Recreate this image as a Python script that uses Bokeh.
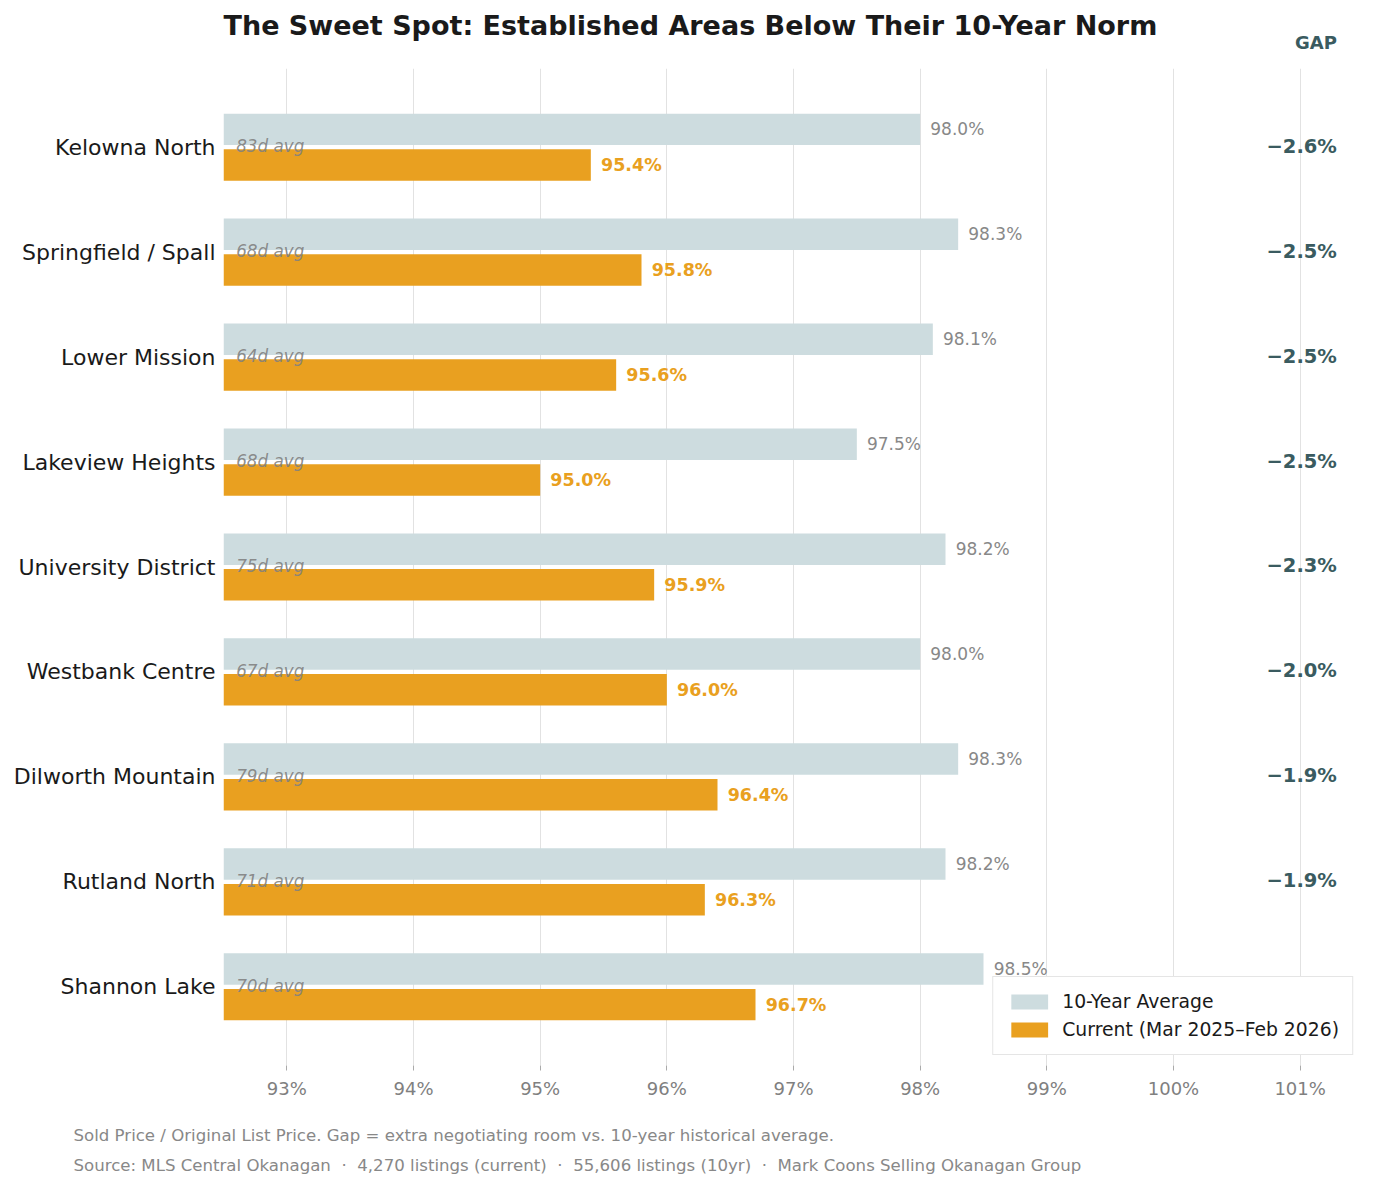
from bokeh.plotting import figure
from bokeh.models import (ColumnDataSource, Range1d, FixedTicker, Title,
                          Legend, LegendItem, LinearAxis)
from bokeh.core.properties import value
from bokeh.embed import file_html
from bokeh.resources import INLINE

# ---- data ----
areas = ["Kelowna North", "Springfield / Spall", "Lower Mission", "Lakeview Heights",
         "University District", "Westbank Centre", "Dilworth Mountain", "Rutland North",
         "Shannon Lake"]
avg_10yr = [98.0, 98.3, 98.1, 97.5, 98.2, 98.0, 98.3, 98.2, 98.5]
current = [95.4, 95.8, 95.6, 95.0, 95.9, 96.0, 96.4, 96.3, 96.7]
gap = [-2.6, -2.5, -2.5, -2.5, -2.3, -2.0, -1.9, -1.9, -1.8]
days_avg = [83, 68, 64, 68, 75, 67, 79, 71, 70]
x_ticks = [93, 94, 95, 96, 97, 98, 99, 100, 101]
x_tick_labels = ["93%", "94%", "95%", "96%", "97%", "98%", "99%", "100%", "101%"]

TITLE = "The Sweet Spot: Established Areas Below Their 10-Year Norm"
GAP_HEADER = "GAP"
SEP = " \u00a0\u00b7\u00a0 "
FOOT1 = "Sold Price / Original List Price. Gap = extra negotiating room vs. 10-year historical average."
FOOT2 = SEP.join(["Source: MLS Central Okanagan", "4,270 listings (current)",
                  "55,606 listings (10yr)", "Mark Coons Selling Okanagan Group"])

GRAY = "#CDDCDF"
ORANGE = "#E9A020"
TXT_GRAY = "#888888"
GAP_COL = "#3A5B60"
FONT = "DejaVu Sans"

n = len(areas)
ypos = [n - 1 - i for i in range(n)]
X0 = 92.5
X1 = 101.5
GAP_X = 101.29
GAP_HEAD_X = 101.125
OFF = 0.17
BH = 0.30

src = ColumnDataSource(dict(
    y=ypos,
    y_avg=[y + OFF for y in ypos],
    y_cur=[y - OFF for y in ypos],
    y_txt=[y + 0.01 for y in ypos],
    avg=avg_10yr,
    cur=current,
    avg_lbl=[f"{v:.1f}%" for v in avg_10yr],
    cur_lbl=[f"{v:.1f}%" for v in current],
    gap_lbl=[f"\u2212{abs(g):.1f}%" for g in gap],
    days_lbl=[f"{d}d avg" for d in days_avg],
    avg_x=[v + 0.08 for v in avg_10yr],
    cur_x=[v + 0.08 for v in current],
))

p = figure(width=1370, height=1180, output_backend="svg", toolbar_location=None,
           x_range=Range1d(X0, X1), y_range=Range1d(-0.75, 8.75),
           min_border_left=223, min_border_right=7, min_border_top=68,
           min_border_bottom=115)
p.outline_line_color = None
p.background_fill_color = "white"
p.border_fill_color = "white"

# bars
r_avg = p.hbar(y="y_avg", left=X0, right="avg", height=BH, source=src,
               fill_color=GRAY, line_color=None)
r_cur = p.hbar(y="y_cur", left=X0, right="cur", height=BH, source=src,
               fill_color=ORANGE, line_color=None)

# labels
p.text(x="avg_x", y="y_avg", text="avg_lbl", source=src, text_font=value(FONT),
       text_font_size="17px", text_color=TXT_GRAY, text_baseline="middle",
       text_align="left")
p.text(x="cur_x", y="y_cur", text="cur_lbl", source=src, text_font=value(FONT),
       text_font_size="17.5px", text_font_style="bold", text_color=ORANGE,
       text_baseline="middle", text_align="left")
p.text(x=X0 + 0.1, y="y_txt", text="days_lbl", source=src, text_font=value(FONT),
       text_font_size="16.8px", text_font_style="italic", text_color="#808080",
       text_alpha=0.9, text_baseline="middle", text_align="left")
p.text(x=GAP_X, y="y_txt", text="gap_lbl", source=src, text_font=value(FONT),
       text_font_size="19.5px", text_font_style="bold", text_color=GAP_COL,
       text_baseline="middle", text_align="right")

# bottom axis
p.xaxis.ticker = FixedTicker(ticks=x_ticks)
p.xaxis.major_label_overrides = {t: l for t, l in zip(x_ticks, x_tick_labels)}
p.xaxis.axis_line_color = None
p.xaxis.major_tick_line_color = "#aaaaaa"
p.xaxis.major_tick_in = 0
p.xaxis.major_tick_out = 5
p.xaxis.minor_tick_line_color = None
p.xaxis.major_label_text_font = FONT
p.xaxis.major_label_text_font_size = "18px"
p.xaxis.major_label_text_color = "#808080"
p.xaxis.major_label_standoff = 7

p.yaxis.ticker = FixedTicker(ticks=ypos)
p.yaxis.major_label_overrides = {y: a for y, a in zip(ypos, areas)}
p.yaxis.axis_line_color = None
p.yaxis.major_tick_line_color = None
p.yaxis.major_tick_in = 0
p.yaxis.major_tick_out = 0
p.yaxis.minor_tick_line_color = None
p.yaxis.major_label_text_font = FONT
p.yaxis.major_label_text_font_size = "22px"
p.yaxis.major_label_text_color = "#1a1a1a"
p.yaxis.major_label_standoff = 8

p.xgrid.grid_line_color = "#e2e2e2"
p.xgrid.grid_line_width = 1
p.ygrid.grid_line_color = None

# "GAP" column header as a top axis label
top_axis = LinearAxis(ticker=FixedTicker(ticks=[GAP_HEAD_X]),
                      major_label_overrides={GAP_HEAD_X: GAP_HEADER},
                      axis_line_color=None, major_tick_line_color=None,
                      major_tick_in=0, major_tick_out=0,
                      minor_tick_line_color=None, major_label_standoff=16,
                      major_label_text_font=FONT, major_label_text_font_size="18px",
                      major_label_text_font_style="bold",
                      major_label_text_color=GAP_COL)
p.add_layout(top_axis, "above")

# title
p.title.text = TITLE
p.title.text_font = FONT
p.title.text_font_size = "27px"
p.title.text_font_style = "bold"
p.title.text_color = "#1a1a1a"
p.title.align = "left"
p.title.standoff = -24

# legend
legend = Legend(items=[LegendItem(label="10-Year Average", renderers=[r_avg]),
                       LegendItem(label="Current (Mar 2025\u2013Feb 2026)", renderers=[r_cur])],
                location="bottom_right", margin=10, padding=13, spacing=5,
                label_standoff=10, glyph_width=46, glyph_height=19, label_height=23,
                label_text_font=FONT, label_text_font_size="18.8px",
                label_text_color="#1a1a1a", border_line_color="#cccccc",
                border_line_width=1, background_fill_alpha=1.0)
p.add_layout(legend)

# footer
p.add_layout(Title(text=FOOT1, align="left", offset=-150, text_font=FONT,
                   text_font_size="16.6px", text_font_style="normal",
                   text_color="#888888", standoff=44), "below")
p.add_layout(Title(text=FOOT2, align="left", offset=-150, text_font=FONT,
                   text_font_size="16.6px", text_font_style="normal",
                   text_color="#888888", standoff=-21, vertical_align="top"), "below")

open("out.html", "w").write(file_html(p, INLINE))
